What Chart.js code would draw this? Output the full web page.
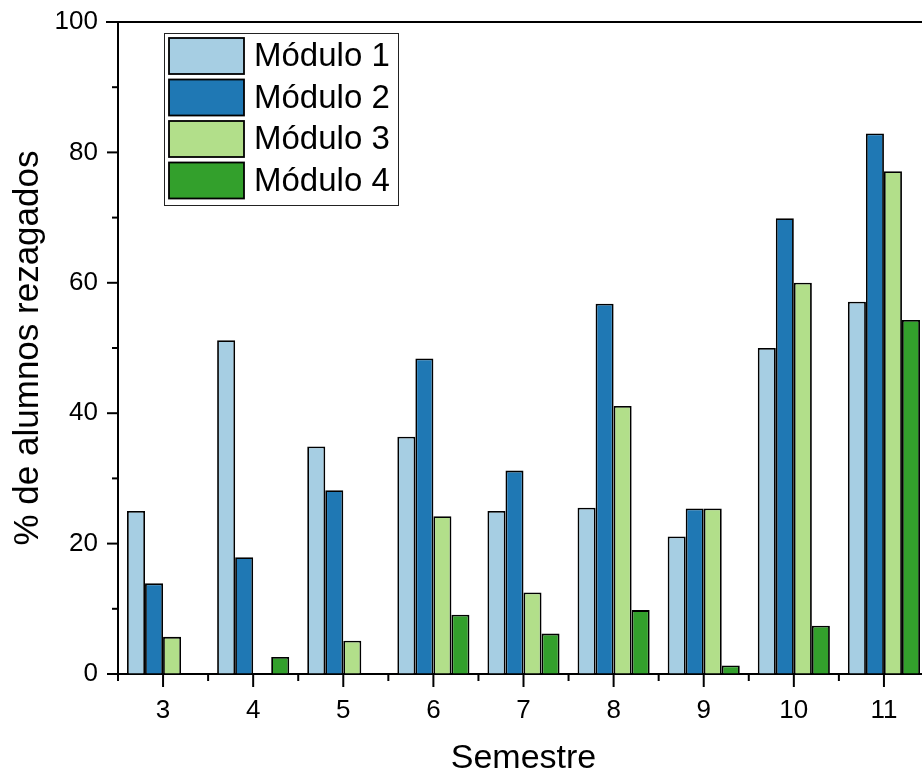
<!DOCTYPE html>
<html>
<head>
<meta charset="utf-8">
<script src="https://cdn.jsdelivr.net/npm/chart.js@4.4.1/dist/chart.umd.min.js"></script>
<style>
    html, body { margin: 0; padding: 0; background: #fff; overflow: hidden; }
    #wrap { width: 930px; height: 771px; }
</style>
</head>
<body>
<div id="wrap"><canvas id="grafik" width="930" height="771"></canvas></div>
<script>
// Data semestre
const semestre = ['3', '4', '5', '6', '7', '8', '9', '10', '11'];
const modulo1 = [25.0, 51.2, 34.9, 36.4, 25.0, 25.5, 21.1, 50.0, 57.1];
const modulo2 = [13.9, 17.9, 28.2, 48.4, 31.2, 56.8, 25.4, 69.9, 82.9];
const modulo3 = [5.7, null, 5.1, 24.2, 12.5, 41.1, 25.4, 60.0, 77.1];
const modulo4 = [null, 2.6, null, 9.1, 6.2, 9.8, 1.3, 7.4, 54.3];
const namaModul = ['Módulo 1', 'Módulo 2', 'Módulo 3', 'Módulo 4'];
const warna = ['#a6cee3', '#1f78b4', '#b2df8a', '#33a02c'];
const yTicks = [0, 20, 40, 60, 80, 100];

const FONT = '"Liberation Sans", Arial, sans-serif';

// Plugin: ticks luar, garis atas, legend kotak
const gayaOrigin = {
    id: 'gayaOrigin',
    afterDraw(chart) {
        const ctx = chart.ctx;
        const area = chart.chartArea;
        const x = chart.scales.x;
        const y = chart.scales.y;
        ctx.save();
        ctx.strokeStyle = '#000';
        ctx.lineWidth = 2;

        // garis atas
        ctx.beginPath();
        ctx.moveTo(area.left - 12, area.top);
        ctx.lineTo(chart.width, area.top);
        ctx.stroke();

        // tick y (mayor + minor)
        const ty = y.ticks.map(t => y.getPixelForValue(t.value));
        ty.forEach((p, i) => {
            ctx.beginPath();
            ctx.moveTo(area.left - 11, p);
            ctx.lineTo(area.left, p);
            ctx.stroke();
            if (i < ty.length - 1) {
                const m = (p + ty[i + 1]) / 2;
                ctx.beginPath();
                ctx.moveTo(area.left - 6, m);
                ctx.lineTo(area.left, m);
                ctx.stroke();
            }
        });

        // tick x (mayor di tengah, minor di batas)
        const tx = semestre.map((s, i) => x.getPixelForTick(i));
        const step = tx[1] - tx[0];
        tx.forEach((p, i) => {
            ctx.beginPath();
            ctx.moveTo(p, area.bottom);
            ctx.lineTo(p, area.bottom + 13);
            ctx.stroke();
            const b = p - step / 2;
            ctx.beginPath();
            ctx.moveTo(b, area.bottom);
            ctx.lineTo(b, area.bottom + 7);
            ctx.stroke();
        });

        // legend
        const lx = area.left + 46, ly = area.top + 11;
        ctx.fillStyle = '#fff';
        ctx.fillRect(lx, ly, 234, 172);
        ctx.lineWidth = 1;
        ctx.strokeStyle = '#222';
        ctx.strokeRect(lx + 0.5, ly + 0.5, 234, 172);
        ctx.font = '33px ' + FONT;
        ctx.textBaseline = 'middle';
        chart.data.datasets.forEach((ds, i) => {
            const sy = ly + 5 + i * 41.5;
            ctx.fillStyle = ds.backgroundColor;
            ctx.fillRect(lx + 5, sy, 75, 36);
            ctx.lineWidth = 1.8;
            ctx.strokeStyle = '#000';
            ctx.strokeRect(lx + 5, sy, 75, 36);
            ctx.fillStyle = '#000';
            ctx.fillText(ds.label, lx + 90, sy + 19);
        });
        ctx.restore();
    }
};

// grid tak terlihat, hanya untuk jarak label
const gridKosong = (len) => ({
    display: true,
    drawOnChartArea: false,
    drawTicks: true,
    tickLength: len,
    tickColor: 'rgba(0,0,0,0)'
});

const ctx = document.getElementById('grafik').getContext('2d');
new Chart(ctx, {
    type: 'bar',
    data: {
        labels: semestre,
        datasets: [modulo1, modulo2, modulo3, modulo4].map((d, i) => ({
            label: namaModul[i],
            data: d,
            backgroundColor: warna[i],
            borderColor: '#000',
            borderWidth: 1.8,
            borderSkipped: 'bottom',
            categoryPercentage: 0.8,
            barPercentage: 1.0
        }))
    },
    options: {
        responsive: false,
        animation: false,
        devicePixelRatio: 1,
        layout: { padding: { top: 22, right: 1, left: 0, bottom: 0 } },
        plugins: {
            legend: { display: false },
            tooltip: { enabled: false }
        },
        scales: {
            x: {
                offset: true,
                grid: gridKosong(21),
                border: { display: true, color: '#000', width: 2 },
                ticks: {
                    color: '#000',
                    padding: 0,
                    maxRotation: 0,
                    font: { family: FONT, size: 26 }
                },
                title: {
                    display: true,
                    text: 'Semestre',
                    color: '#000',
                    font: { family: FONT, size: 34, lineHeight: 0.65 },
                    padding: { top: 0, bottom: 1 }
                },
                afterFit: function(scale) { scale.height = 97; }
            },
            y: {
                min: 0,
                max: 100,
                afterBuildTicks: function(scale) {
                    scale.ticks = yTicks.map(v => ({ value: v }));
                },
                grid: gridKosong(20),
                border: { display: true, color: '#000', width: 2 },
                ticks: {
                    color: '#000',
                    padding: 0,
                    font: { family: FONT, size: 26 }
                },
                title: {
                    display: true,
                    text: '% de alumnos rezagados',
                    color: '#000',
                    font: { family: FONT, size: 35, lineHeight: 1 },
                    padding: { top: 11, bottom: 0 }
                },
                afterFit: function(scale) { scale.width = 118; }
            }
        }
    },
    plugins: [gayaOrigin]
});
</script>
</body>
</html>
